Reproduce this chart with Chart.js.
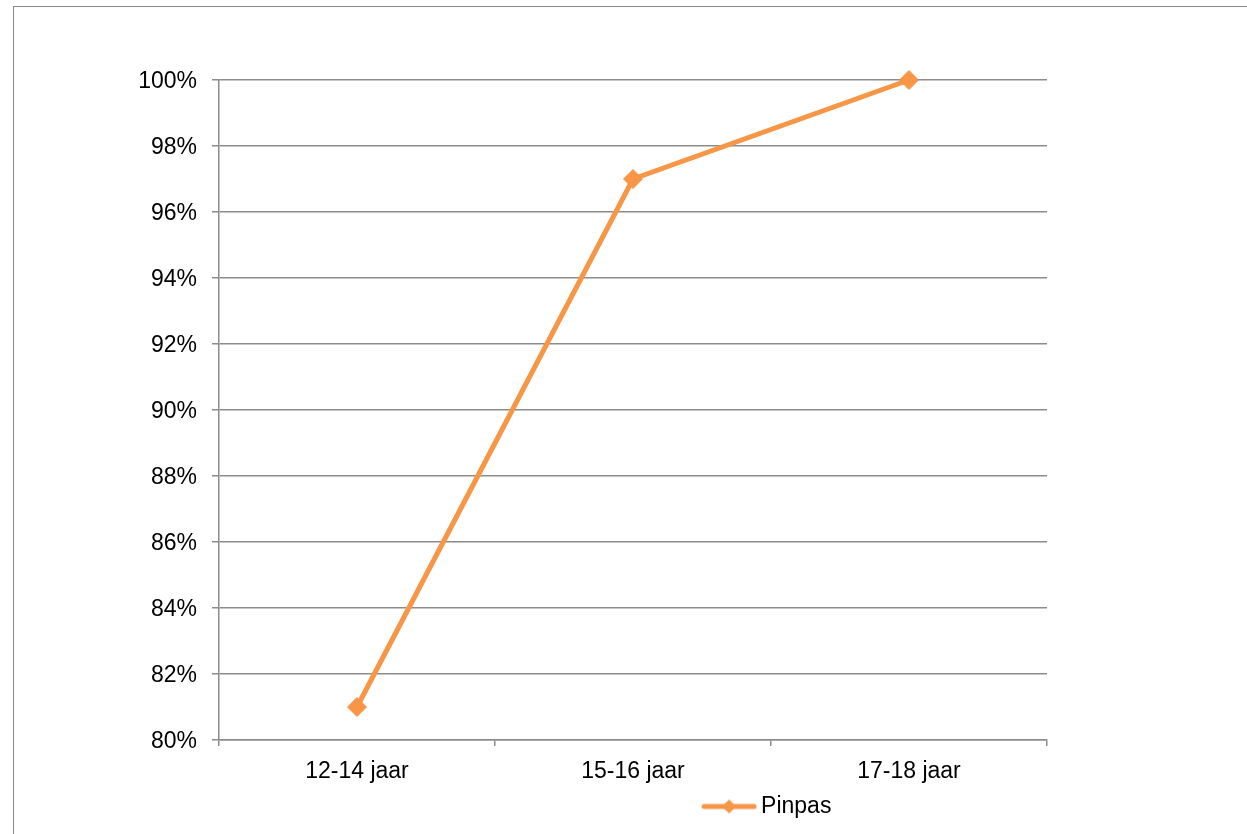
<!DOCTYPE html>
<html>
<head>
<meta charset="utf-8">
<script src="https://cdn.jsdelivr.net/npm/chart.js@4"></script>
<style>
  html, body { margin: 0; padding: 0; overflow: hidden; background: #fff; width: 1247px; height: 834px; }
  #frame { position: absolute; left: 13px; top: 6px; width: 1400px; height: 900px; border: 1px solid #8a8a8a; }
  #chart { position: absolute; left: 0; top: 0; }
</style>
</head>
<body>
<div id="frame"></div>
<canvas id="chart" width="1544" height="834"></canvas>
<script>
// datos
const categories = ['12-14 jaar', '15-16 jaar', '17-18 jaar'];
const pinpas = [81, 97, 100];
const yTicks = [80, 82, 84, 86, 88, 90, 92, 94, 96, 98, 100];

const orange = '#F79646';
const gridGray = '#8c8c8c';
const fontFamily = 'Liberation Sans, Arial, sans-serif';

// icono de la leyenda: línea con rombo
const legendIcon = document.createElement('canvas');
legendIcon.width = 56;
legendIcon.height = 16;
(function() {
    const c = legendIcon.getContext('2d');
    c.strokeStyle = orange;
    c.lineWidth = 5;
    c.lineCap = 'round';
    c.beginPath();
    c.moveTo(3, 8);
    c.lineTo(53, 8);
    c.stroke();
    c.fillStyle = orange;
    c.beginPath();
    c.moveTo(28, 1);
    c.lineTo(35, 8);
    c.lineTo(28, 15);
    c.lineTo(21, 8);
    c.closePath();
    c.fill();
})();

// mover la leyenda para que quede centrada como en el original
const legendShift = {
    id: 'legendShift',
    afterLayout: function(chart) {
        const lg = chart.legend;
        if (!lg) return;
        const w = lg.right - lg.left;
        lg.left = 770 - w / 2;
        lg.right = lg.left + w;
    }
};

const config = {
    type: 'line',
    data: {
        labels: categories,
        datasets: [{
            label: 'Pinpas',
            data: pinpas,
            borderColor: orange,
            backgroundColor: orange,
            borderWidth: 5,
            pointStyle: 'rectRot',
            pointRadius: 9.5,
            pointHoverRadius: 9.5,
            pointBorderWidth: 1,
            pointBackgroundColor: orange,
            pointBorderColor: orange,
            tension: 0,
            clip: false
        }]
    },
    options: {
        responsive: false,
        animation: false,
        devicePixelRatio: 1,
        layout: { padding: { top: 80, right: 497, bottom: 6, left: 0 } },
        plugins: {
            tooltip: { enabled: false },
            legend: {
                position: 'bottom',
                labels: {
                    usePointStyle: true,
                    pointStyleWidth: 41,
                    color: '#000',
                    font: { family: fontFamily, size: 23 },
                    padding: 10,
                    generateLabels: function(chart) {
                        return [{
                            text: 'Pinpas',
                            pointStyle: legendIcon,
                            fillStyle: orange,
                            strokeStyle: orange,
                            lineWidth: 0,
                            datasetIndex: 0,
                            fontColor: '#000'
                        }];
                    }
                }
            }
        },
        scales: {
            x: {
                offset: true,
                grid: {
                    drawOnChartArea: false,
                    drawTicks: true,
                    tickLength: 6,
                    offset: true,
                    color: gridGray,
                    lineWidth: 1.5
                },
                border: { display: true, color: gridGray, width: 1.5 },
                ticks: {
                    color: '#000',
                    padding: 12,
                    maxRotation: 0,
                    font: { family: fontFamily, size: 23 }
                },
                afterFit: function(scale) { scale.height = 45; }
            },
            y: {
                min: 80,
                max: 100,
                afterBuildTicks: function(scale) {
                    scale.ticks = yTicks.map(v => ({ value: v }));
                },
                grid: {
                    color: gridGray,
                    lineWidth: 1.5,
                    tickLength: 7,
                    drawTicks: true
                },
                border: { display: true, color: gridGray, width: 1.5 },
                ticks: {
                    color: '#000',
                    padding: 15,
                    labelOffset: 2,
                    font: { family: fontFamily, size: 23 },
                    callback: function(v) { return v + '%'; }
                },
                afterFit: function(scale) { scale.width = 219; }
            }
        }
    },
    plugins: [legendShift]
};

const chart = new Chart(document.getElementById('chart'), config);
</script>
</body>
</html>
